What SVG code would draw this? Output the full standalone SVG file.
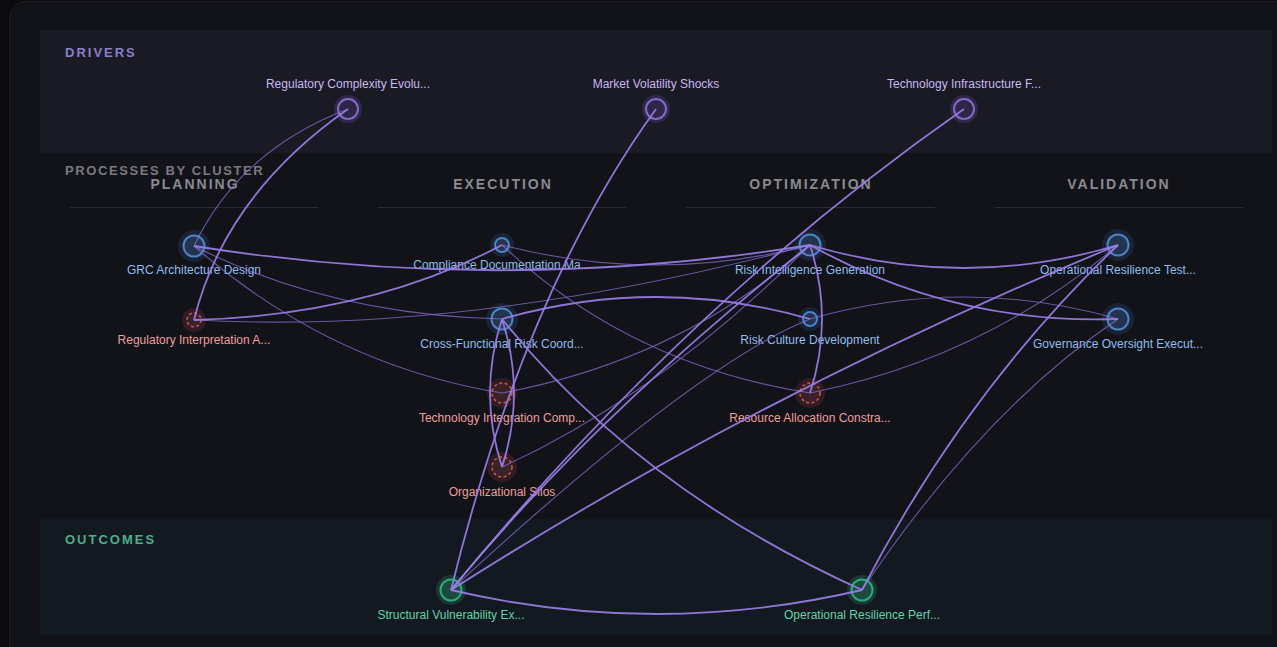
<svg xmlns="http://www.w3.org/2000/svg" width="1277" height="647" viewBox="0 0 1277 647">
<style>
.lbl{font-family:"Liberation Sans",Arial,sans-serif;font-size:12px;text-anchor:middle}
.sec{font-family:"Liberation Sans",Arial,sans-serif;font-size:13px;font-weight:bold;letter-spacing:2px}
.clu{font-family:"Liberation Sans",Arial,sans-serif;font-size:14px;font-weight:bold;letter-spacing:2px;text-anchor:middle;fill:#8a8a90}
.ld{fill:#c8b8f2}.lb{fill:#8ebeec}.lr{fill:#ee9e9a}.lg{fill:#5fd4a6}
.hd{fill:#7b61c8;opacity:.22}.rd{fill:#2e2647;stroke:#8468cc;stroke-width:2}
.hb{fill:#3a6aa8;opacity:.2}.rb{fill:#24344e;stroke:#4a84c4;stroke-width:2}
.hr{fill:#c0504d;opacity:.18}.rr{fill:#3a2228;stroke:#c2574f;stroke-width:1.6;stroke-dasharray:3 2.5}
.hg{fill:#2fa877;opacity:.22}.rg{fill:#1d4a3e;stroke:#2eaa78;stroke-width:2}
.thick{fill:none;stroke:#9a7ee6;stroke-width:1.8;opacity:.92}
.thin{fill:none;stroke:#8f74d8;stroke-width:1.1;opacity:.7}
.rule{stroke:#2a2a36;stroke-width:1}
</style>
<rect width="1277" height="647" fill="#0b0b0f"/>
<rect x="9.5" y="1.5" width="1300" height="700" rx="16" fill="#121219" stroke="#1c1c25"/>
<g id="bands">
<rect x="40" y="30" width="1232" height="123" fill="#1a1a24"/>
<rect x="40" y="519" width="1232" height="116" fill="#131920"/>
<text class="sec" x="65" y="57" fill="#8b7fc7">DRIVERS</text>
<text class="sec" x="65" y="175" fill="#7a7a80" style="letter-spacing:1.6px">PROCESSES BY CLUSTER</text>
<text class="sec" x="65" y="544" fill="#4cae8a">OUTCOMES</text>
</g>
<g id="clusters">
<text class="clu" x="195" y="189">PLANNING</text>
<text class="clu" x="503" y="189">EXECUTION</text>
<text class="clu" x="811" y="189">OPTIMIZATION</text>
<text class="clu" x="1119" y="189">VALIDATION</text>
<line class="rule" x1="70" y1="207.5" x2="318" y2="207.5"/>
<line class="rule" x1="378" y1="207.5" x2="626" y2="207.5"/>
<line class="rule" x1="686" y1="207.5" x2="935" y2="207.5"/>
<line class="rule" x1="995" y1="207.5" x2="1243" y2="207.5"/>
</g>
<g id="n-rc"><circle class="hd" cx="348" cy="109" r="14"/><circle class="rd" cx="348" cy="109" r="10"/><text class="lbl ld" x="348" y="88">Regulatory Complexity Evolu...</text></g>
<g id="n-mv"><circle class="hd" cx="656" cy="109" r="14"/><circle class="rd" cx="656" cy="109" r="10"/><text class="lbl ld" x="656" y="88">Market Volatility Shocks</text></g>
<g id="n-ti"><circle class="hd" cx="964" cy="109" r="14"/><circle class="rd" cx="964" cy="109" r="10"/><text class="lbl ld" x="964" y="88">Technology Infrastructure F...</text></g>
<g id="n-grc"><circle class="hb" cx="194" cy="246" r="16"/><circle class="rb" cx="194" cy="246" r="10.5"/><text class="lbl lb" x="194" y="274">GRC Architecture Design</text></g>
<g id="n-ria"><circle class="hr" cx="194" cy="320" r="12"/><circle class="rr" cx="194" cy="320" r="7"/><text class="lbl lr" x="194" y="344">Regulatory Interpretation A...</text></g>
<g id="n-cd"><circle class="hb" cx="502" cy="245" r="12"/><circle class="rb" cx="502" cy="245" r="7"/><text class="lbl lb" x="502" y="269">Compliance Documentation Ma...</text></g>
<g id="n-cf"><circle class="hb" cx="502" cy="319" r="16"/><circle class="rb" cx="502" cy="319" r="10.5"/><text class="lbl lb" x="502" y="348">Cross-Functional Risk Coord...</text></g>
<g id="n-tic"><circle class="hr" cx="502" cy="393" r="15"/><circle class="rr" cx="502" cy="393" r="10"/><text class="lbl lr" x="502" y="422">Technology Integration Comp...</text></g>
<g id="n-os"><circle class="hr" cx="502" cy="467" r="15"/><circle class="rr" cx="502" cy="467" r="10"/><text class="lbl lr" x="502" y="496">Organizational Silos</text></g>
<g id="n-rig"><circle class="hb" cx="810" cy="245" r="16"/><circle class="rb" cx="810" cy="245" r="10.5"/><text class="lbl lb" x="810" y="274">Risk Intelligence Generation</text></g>
<g id="n-rcd"><circle class="hb" cx="810" cy="319" r="12"/><circle class="rb" cx="810" cy="319" r="7"/><text class="lbl lb" x="810" y="344">Risk Culture Development</text></g>
<g id="n-rac"><circle class="hr" cx="810" cy="393" r="15"/><circle class="rr" cx="810" cy="393" r="10"/><text class="lbl lr" x="810" y="422">Resource Allocation Constra...</text></g>
<g id="n-ort"><circle class="hb" cx="1118" cy="245" r="16"/><circle class="rb" cx="1118" cy="245" r="10.5"/><text class="lbl lb" x="1118" y="274">Operational Resilience Test...</text></g>
<g id="n-goe"><circle class="hb" cx="1118" cy="319" r="16"/><circle class="rb" cx="1118" cy="319" r="10.5"/><text class="lbl lb" x="1118" y="348">Governance Oversight Execut...</text></g>
<g id="n-sve"><circle class="hg" cx="451" cy="590" r="15"/><circle class="rg" cx="451" cy="590" r="10.5"/><text class="lbl lg" x="451" y="619">Structural Vulnerability Ex...</text></g>
<g id="n-orp"><circle class="hg" cx="862" cy="590" r="15"/><circle class="rg" cx="862" cy="590" r="10.5"/><text class="lbl lg" x="862" y="619">Operational Resilience Perf...</text></g>
<g id="connectors">
<path class="thin" d="M348,109 Q240,150 194,246"/>
<path class="thin" d="M194,246 Q330,315 502,319"/>
<path class="thin" d="M194,246 Q330,365 502,393"/>
<path class="thin" d="M194,320 Q470,335 810,245"/>
<path class="thin" d="M502,245 Q656,285 810,245"/>
<path class="thin" d="M502,245 Q630,365 810,393"/>
<path class="thin" d="M502,393 Q680,360 810,245"/>
<path class="thin" d="M502,467 Q660,395 810,245"/>
<path class="thin" d="M451,590 Q695,365 810,319"/>
<path class="thin" d="M810,319 Q964,275 1118,319"/>
<path class="thin" d="M810,393 Q983,359 1118,245"/>
<path class="thin" d="M862,590 Q983,410 1118,319"/>
<path class="thick" d="M348,109 Q225,195 194,320"/>
<path class="thick" d="M656,109 Q525,290 451,590"/>
<path class="thick" d="M964,109 Q690,300 451,590"/>
<path class="thick" d="M194,246 Q502,295 810,245"/>
<path class="thick" d="M194,320 Q370,315 502,245"/>
<path class="thick" d="M502,319 Q656,275 810,319"/>
<path class="thick" d="M502,319 Q640,490 862,590"/>
<path class="thick" d="M502,319 Q478,393 502,467"/>
<path class="thick" d="M502,467 Q526,393 502,319"/>
<path class="thick" d="M810,245 Q595,415 451,590"/>
<path class="thick" d="M451,590 Q765,390 1118,245"/>
<path class="thick" d="M451,590 Q656,638 862,590"/>
<path class="thick" d="M862,590 Q966,390 1118,245"/>
<path class="thick" d="M810,245 Q964,291 1118,245"/>
<path class="thick" d="M810,245 Q954,325 1118,319"/>
<path class="thick" d="M810,245 Q834,319 810,393"/>
</g>
</svg>
